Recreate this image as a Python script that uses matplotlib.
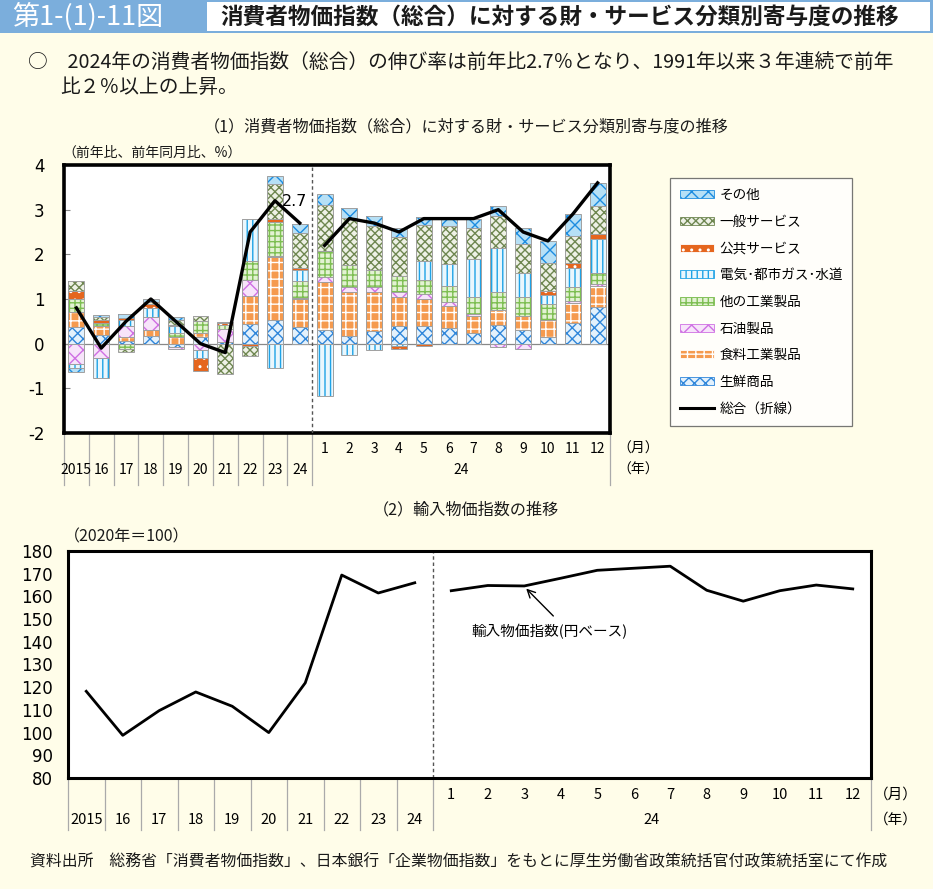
import numpy as np
import matplotlib
matplotlib.use("Agg")
import matplotlib.pyplot as plt
from matplotlib.patches import Patch, Rectangle
from matplotlib.lines import Line2D
import matplotlib.transforms as mtransforms

plt.rcParams['font.family'] = ['Noto Sans CJK JP', 'DejaVu Sans']
plt.rcParams['hatch.linewidth'] = 1.0

# ---------------- data ----------------
year_labels = ["2015", "16", "17", "18", "19", "20", "21", "22", "23", "24"]
month_labels = [str(m) for m in range(1, 13)]

fresh = [0.37, 0.20, 0.05, 0.18, -0.08, 0.16, 0.03, 0.43, 0.54, 0.37,
         0.31, 0.18, 0.28, 0.40, 0.40, 0.35, 0.24, 0.41, 0.31, 0.16, 0.46, 0.82]
food_ind = [0.35, 0.19, 0.10, 0.12, 0.15, 0.09, 0.00, 0.64, 1.39, 0.62,
            1.06, 0.98, 0.88, 0.64, 0.60, 0.49, 0.37, 0.35, 0.30, 0.37, 0.45, 0.48]
petro = [-0.45, -0.33, 0.24, 0.30, -0.05, -0.15, 0.30, 0.36, 0.04, 0.03,
         0.12, 0.10, 0.11, 0.11, 0.11, 0.09, 0.06, -0.08, -0.11, 0.00, 0.04, 0.04]
other_ind = [0.28, 0.08, -0.13, 0.00, 0.10, 0.25, 0.08, 0.43, 0.75, 0.38,
             0.58, 0.50, 0.37, 0.37, 0.32, 0.37, 0.37, 0.39, 0.43, 0.36, 0.32, 0.25]
energy = [-0.10, -0.44, 0.13, 0.20, 0.14, -0.16, 0.00, 0.92, -0.55, 0.26,
          -1.17, -0.25, -0.15, -0.05, 0.43, 0.49, 0.85, 1.00, 0.55, 0.19, 0.43, 0.76]
public_srv = [0.19, 0.05, 0.05, 0.09, 0.03, -0.31, 0.05, -0.06, 0.06, 0.04,
              0.00, 0.00, 0.00, -0.07, -0.05, 0.00, 0.00, 0.00, 0.00, 0.10, 0.11, 0.11]
general_srv = [0.22, 0.07, -0.05, 0.04, 0.10, 0.11, -0.68, -0.22, 0.80, 0.77,
               1.03, 1.06, 1.00, 0.86, 0.79, 0.84, 0.69, 0.71, 0.64, 0.62, 0.60, 0.63]
others = [-0.09, 0.05, 0.10, 0.07, 0.07, 0.00, 0.02, 0.00, 0.17, 0.22,
          0.26, 0.21, 0.21, 0.22, 0.19, 0.15, 0.22, 0.22, 0.37, 0.49, 0.49, 0.51]

cpi_total_annual = [0.8, -0.1, 0.5, 1.0, 0.5, 0.0, -0.2, 2.5, 3.2, 2.7]
cpi_total_monthly = [2.2, 2.8, 2.7, 2.5, 2.8, 2.8, 2.8, 3.0, 2.5, 2.3, 2.9, 3.6]

import_annual = [118.2, 98.8, 109.7, 117.9, 111.6, 100.0, 121.9, 169.4, 161.5, 166.0]
import_monthly = [162.5, 164.8, 164.6, 168.0, 171.5, 172.4, 173.3, 162.7, 157.9, 162.5, 165.0, 163.3]

series_names = ["生鮮商品", "食料工業製品", "石油製品", "他の工業製品",
                "電気･都市ガス･水道", "公共サービス", "一般サービス", "その他"]
series_values = [fresh, food_ind, petro, other_ind, energy, public_srv, general_srv, others]
# face colour, hatch colour, hatch
styles = [
    ("#E3F1FC", "#2F86DA", "xxx"),
    ("#F59A4E", "#FFFFFF", "++"),
    ("#F7E4FA", "#CF6FE3", "xx"),
    ("#E3F2D3", "#7DBE52", "+++"),
    ("#EAF7FD", "#1FA3E6", "|||"),
    ("#E5661E", "#FFFFFF", ".."),
    ("#EEF1E6", "#6E8650", "xxxx"),
    ("#B6E0F6", "#1C8CE0", "xx"),
]

BG = "#FFFDE9"

fig = plt.figure(figsize=(9.33, 8.89), dpi=100, facecolor=BG)

# ---------------- header ----------------
fig.patches.append(Rectangle((0, 1 - 33 / 889), 1, 33 / 889, transform=fig.transFigure,
                             facecolor="#7BAEDC", edgecolor="none", zorder=0))
fig.patches.append(Rectangle((207 / 933, 1 - 31 / 889), 723 / 933, 29 / 889, transform=fig.transFigure,
                             facecolor="white", edgecolor="none", zorder=1))
fig.text(12 / 933, 1 - 17 / 889, "第1-(1)-11図", color="white", fontsize=19.5, va="center", ha="left")
fig.text(220 / 933, 1 - 17 / 889, "消費者物価指数（総合）に対する財・サービス分類別寄与度の推移",
         color="#1a1a1a", fontsize=16.3, fontweight="bold", va="center", ha="left")

fig.text(28 / 933, 1 - 62 / 889,
         "○　2024年の消費者物価指数（総合）の伸び率は前年比2.7％となり、1991年以来３年連続で前年",
         fontsize=14.2, va="center", ha="left", color="#1a1a1a")
fig.text(60 / 933, 1 - 87 / 889, "比２％以上の上昇。", fontsize=14.2, va="center", ha="left", color="#1a1a1a")

fig.text(466 / 933, 1 - 127 / 889, "（1）消費者物価指数（総合）に対する財・サービス分類別寄与度の推移",
         fontsize=11.6, va="center", ha="center", color="#1a1a1a")
fig.text(62 / 933, 1 - 153 / 889, "（前年比、前年同月比、%）", fontsize=10, va="center", ha="left", color="#1a1a1a")

# ---------------- top chart ----------------
ax1 = fig.add_axes([64 / 933, 1 - 433 / 889, 546 / 933, 268 / 889])
ax1.set_facecolor("white")
n = len(year_labels) + len(month_labels)
x = np.arange(n)
width = 0.64
pos_bottom = np.zeros(n)
neg_bottom = np.zeros(n)
for name, vals, (fc, hc, h) in zip(series_names, series_values, styles):
    v = np.array(vals, dtype=float)
    bottom = np.where(v >= 0, pos_bottom, neg_bottom)
    ax1.bar(x, v, width, bottom=bottom, facecolor=fc, edgecolor=hc, hatch=h, linewidth=0, zorder=2)
    ax1.bar(x, v, width, bottom=bottom, facecolor="none", edgecolor="#A0A0A0", linewidth=0.7, zorder=3)
    pos_bottom = pos_bottom + np.where(v >= 0, v, 0)
    neg_bottom = neg_bottom + np.where(v < 0, v, 0)

na = len(year_labels)
ax1.plot(x[:na], cpi_total_annual, color="black", lw=2.4, zorder=5)
ax1.plot(x[na:], cpi_total_monthly, color="black", lw=2.4, zorder=5)
ax1.text(x[na - 1] - 0.2, cpi_total_annual[-1] + 0.48, f"{cpi_total_annual[-1]:.1f}",
         fontsize=11.5, ha="center", va="center", zorder=6, family="DejaVu Sans")

ax1.axhline(0, color="#888888", lw=0.9, zorder=1)
ax1.axvline(na - 0.5, color="#555555", lw=1.0, ls=(0, (2.5, 2)), zorder=4)
ax1.set_xlim(-0.5, n - 0.5)
ax1.set_ylim(-2, 4)
ax1.set_yticks(range(-2, 5))
ax1.set_yticklabels([str(t) for t in range(-2, 5)], fontsize=12, family="DejaVu Sans")
ax1.tick_params(axis="y", direction="in", length=4, color="#888888", pad=14)
ax1.set_xticks([])
for s in ax1.spines.values():
    s.set_linewidth(2.6)
    s.set_color("black")

tr1 = mtransforms.blended_transform_factory(ax1.transData, ax1.transAxes)
for i, lab in enumerate(year_labels):
    ax1.text(i, -0.138, lab, transform=tr1, ha="center", va="center", fontsize=10, clip_on=False)
for b in np.arange(-0.5, na, 1.0):
    ax1.plot([b, b], [0, -0.194], transform=tr1, color="#AAAAAA", lw=0.9, clip_on=False)
for j, lab in enumerate(month_labels):
    ax1.text(na + j, -0.06, lab, transform=tr1, ha="center", va="center", fontsize=10, clip_on=False)
ax1.text(na + (len(month_labels) - 1) / 2, -0.138, "24", transform=tr1, ha="center", va="center",
         fontsize=10, clip_on=False)
ax1.plot([n - 0.5, n - 0.5], [0, -0.194], transform=tr1, color="#AAAAAA", lw=0.9, clip_on=False)
ax1.text(1.013, -0.06, "（月）", transform=ax1.transAxes, ha="left", va="center", fontsize=10)
ax1.text(1.013, -0.138, "（年）", transform=ax1.transAxes, ha="left", va="center", fontsize=10)

# legend
handles = []
labels = []
for name, (fc, hc, h) in reversed(list(zip(series_names, styles))):
    handles.append(Patch(facecolor=fc, edgecolor=hc, hatch=h, linewidth=0.6))
    labels.append(name)
handles.append(Line2D([0], [0], color="black", lw=2.2))
labels.append("総合（折線）")
leg = fig.legend(handles, labels, loc="upper left", bbox_to_anchor=(670 / 933, 1 - 178 / 889),
                 fontsize=9.8, frameon=True, fancybox=False, edgecolor="#555555",
                 labelspacing=0.93, handlelength=2.5, handleheight=0.55, handletextpad=0.4,
                 borderpad=0.75, borderaxespad=0)
leg.get_frame().set_linewidth(0.9)
leg.get_frame().set_facecolor("white")

# ---------------- bottom chart ----------------
fig.text(466 / 933, 1 - 510 / 889, "（2）輸入物価指数の推移", fontsize=11.6, va="center", ha="center", color="#1a1a1a")
fig.text(64 / 933, 1 - 537 / 889, "（2020年＝100）", fontsize=11.5, va="center", ha="left", color="#1a1a1a")

ax2 = fig.add_axes([68 / 933, 1 - 778 / 889, 803 / 933, 227 / 889])
ax2.set_facecolor("white")
ax2.plot(x[:na], import_annual, color="black", lw=2.0)
ax2.plot(x[na:], import_monthly, color="black", lw=2.0)
ax2.axvline(na - 0.5, color="#555555", lw=1.0, ls=(0, (2.5, 2)))
ax2.set_xlim(-0.5, n - 0.5)
ax2.set_ylim(80, 180)
ax2.set_yticks(range(80, 181, 10))
ax2.set_yticklabels([str(t) for t in range(80, 181, 10)], fontsize=12, family="DejaVu Sans")
ax2.tick_params(axis="y", length=0, pad=11)
ax2.set_xticks([])
for s in ax2.spines.values():
    s.set_linewidth(2.2)
    s.set_color("black")

ax2.annotate("", xy=(na + 2, import_monthly[2] - 0.3), xytext=(na + 2.85, 150.5),
             arrowprops=dict(arrowstyle="->", color="black", lw=1.0, mutation_scale=14))
ax2.text(na + 0.55, 144.3, "輸入物価指数(円ベース)", fontsize=10.5, ha="left", va="center")

tr2 = mtransforms.blended_transform_factory(ax2.transData, ax2.transAxes)
for i, lab in enumerate(year_labels):
    ax2.text(i, -0.185, lab, transform=tr2, ha="center", va="center", fontsize=10.5, clip_on=False)
for b in np.arange(-0.5, na, 1.0):
    ax2.plot([b, b], [0, -0.229], transform=tr2, color="#AAAAAA", lw=0.9, clip_on=False)
for j, lab in enumerate(month_labels):
    ax2.text(na + j, -0.075, lab, transform=tr2, ha="center", va="center", fontsize=10.5, clip_on=False)
ax2.text(na + (len(month_labels) - 1) / 2, -0.185, "24", transform=tr2, ha="center", va="center",
         fontsize=10.5, clip_on=False)
ax2.plot([n - 0.5, n - 0.5], [0, -0.229], transform=tr2, color="#AAAAAA", lw=0.9, clip_on=False)
ax2.text(1.004, -0.075, "（月）", transform=ax2.transAxes, ha="left", va="center", fontsize=10.5)
ax2.text(1.004, -0.185, "（年）", transform=ax2.transAxes, ha="left", va="center", fontsize=10.5)

fig.text(30 / 933, 1 - 862 / 889,
         "資料出所　総務省「消費者物価指数」、日本銀行「企業物価指数」をもとに厚生労働省政策統括官付政策統括室にて作成",
         fontsize=11.4, va="center", ha="left", color="#1a1a1a")

fig.savefig("out.png", dpi=100, facecolor=BG)
